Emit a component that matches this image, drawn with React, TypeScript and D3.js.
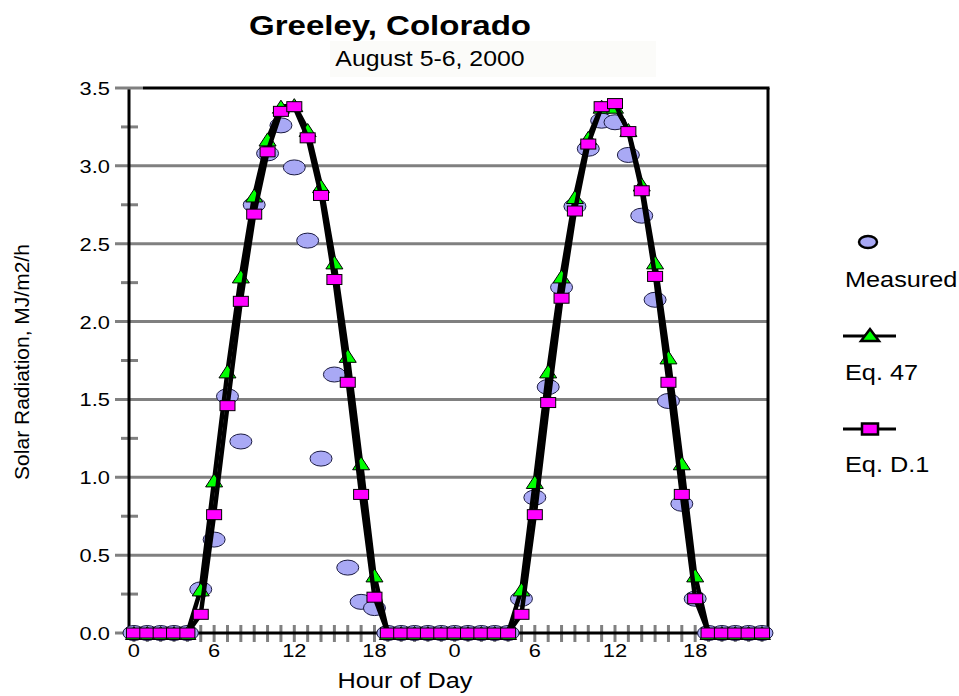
import React from "react";
import * as d3 from "d3";

// hourly values, Aug 5 (0-23) then Aug 6 (24-47)
const hours = d3.range(48);

const measured = [
  0, 0, 0, 0, 0, 0.28, 0.6, 1.52, 1.23, 2.75, 3.08, 3.26, 2.99, 2.52, 1.12, 1.66,
  0.42, 0.2, 0.16, 0, 0, 0, 0, 0,
  0, 0, 0, 0, 0, 0.22, 0.87, 1.58, 2.22, 2.74, 3.11, 3.29, 3.28, 3.07, 2.68, 2.14,
  1.49, 0.83, 0.22, 0, 0, 0, 0, 0,
];

const eq47 = [
  0, 0, 0, 0, 0, 0.28, 0.98, 1.68, 2.29, 2.81, 3.17, 3.38, 3.39, 3.23, 2.87, 2.38,
  1.78, 1.09, 0.37, 0, 0, 0, 0, 0,
  0, 0, 0, 0, 0, 0.28, 0.97, 1.68, 2.29, 2.8, 3.18, 3.38, 3.38, 3.23, 2.88, 2.38,
  1.77, 1.09, 0.37, 0, 0, 0, 0, 0,
];

const eqD1 = [
  0, 0, 0, 0, 0, 0.12, 0.76, 1.46, 2.13, 2.69, 3.09, 3.35, 3.38, 3.18, 2.81, 2.27,
  1.61, 0.89, 0.23, 0, 0, 0, 0, 0,
  0, 0, 0, 0, 0, 0.12, 0.76, 1.48, 2.15, 2.71, 3.14, 3.38, 3.4, 3.22, 2.84, 2.29,
  1.61, 0.89, 0.22, 0, 0, 0, 0, 0,
];

const xTicks = [0, 6, 12, 18, 24, 30, 36, 42];
const xTickLabels = ["0", "6", "12", "18", "0", "6", "12", "18"];
const yMajor = [0, 0.5, 1, 1.5, 2, 2.5, 3, 3.5];
const yMinor = [0.25, 0.75, 1.25, 1.75, 2.25, 2.75, 3.25];

const FONT = "'Liberation Sans', Arial, sans-serif";
const GRID = "#808080";
const BLUE = "#a9a9f5";

const left = 129;
const right = 768;
const top = 88;
const bottom = 633;

const x = d3.scaleLinear().domain([-0.37, 47.45]).range([left, right]);
const y = d3.scaleLinear().domain([0, 3.5]).range([bottom, top]);

// text in the picture is a bit wider than the fonts we have, so stretch it
const SText = ({ x, y, size, sx = 1.15, anchor = "start", weight = "normal", children }: any) => (
  <g transform={`translate(${x},${y}) scale(${sx},1)`}>
    <text textAnchor={anchor} fontSize={size} fontWeight={weight} fontFamily={FONT} fill="#000">
      {children}
    </text>
  </g>
);

const tri = (cx: number, cy: number, w: number, h: number) =>
  `M${cx - w / 2},${cy + h / 2}L${cx},${cy - h / 2}L${cx + w / 2},${cy + h / 2}Z`;

export default function App() {
  const line = d3
    .line<number>()
    .x((_, i) => x(hours[i]))
    .y((d) => y(d));

  return (
    <svg
      width={959}
      height={696}
      style={{ position: "absolute", left: 0, top: 0, background: "#fff" }}
    >
      {/* titles */}
      <SText x={390} y={35} size={28} sx={1.18} anchor="middle" weight="bold">
        Greeley, Colorado
      </SText>
      <rect x={330} y={41} width={326} height={36} fill="#fbfbf9" />
      <SText x={430} y={66} size={22} sx={1.13} anchor="middle">
        August 5-6, 2000
      </SText>

      {/* grid + y ticks */}
      {yMajor.filter((v) => v > 0 && v < 3.5).map((v) => (
        <line key={v} x1={115} x2={right} y1={y(v)} y2={y(v)} stroke={GRID} strokeWidth={3} />
      ))}
      <line x1={115} x2={left} y1={y(0)} y2={y(0)} stroke={GRID} strokeWidth={3} />
      {yMinor.map((v) => (
        <line key={v} x1={121} x2={138} y1={y(v)} y2={y(v)} stroke={GRID} strokeWidth={3} />
      ))}

      {/* x ticks */}
      {hours.map((h) => (
        <line key={h} x1={x(h)} x2={x(h)} y1={625} y2={642} stroke={GRID} strokeWidth={3} />
      ))}

      {/* frame */}
      <line x1={left} x2={left} y1={top} y2={bottom} stroke="#000" strokeWidth={3} />
      <line x1={143} x2={right + 1.5} y1={top} y2={top} stroke="#000" strokeWidth={3} />
      <line x1={right} x2={right} y1={top} y2={bottom} stroke="#000" strokeWidth={3} />
      <line x1={left} x2={right} y1={bottom} y2={bottom} stroke="#000" strokeWidth={3} />
      <line x1={115} x2={143} y1={top} y2={top} stroke={GRID} strokeWidth={3} />

      {/* tick labels */}
      {yMajor.map((v) => (
        <SText key={v} x={110} y={y(v) + 7} size={19} anchor="end">
          {v.toFixed(1)}
        </SText>
      ))}
      {xTicks.map((h, i) => (
        <SText key={h} x={x(h)} y={657} size={19} anchor="middle">
          {xTickLabels[i]}
        </SText>
      ))}

      {/* axis titles */}
      <SText x={405} y={688} size={22} anchor="middle">
        Hour of Day
      </SText>
      <text
        transform="translate(29,362) rotate(-90)"
        textAnchor="middle"
        fontSize={21}
        fontFamily={FONT}
      >
        Solar Radiation, MJ/m2/h
      </text>

      {/* series */}
      {measured.map((v, i) => (
        <ellipse key={i} cx={x(hours[i])} cy={y(v)} rx={11} ry={7.5} fill={BLUE} stroke="#1a1a40" strokeWidth={1} />
      ))}
      <path d={line(eq47) || ""} fill="none" stroke="#000" strokeWidth={4.5} strokeLinejoin="round" />
      {eq47.map((v, i) => (
        <path key={i} d={tri(x(hours[i]), y(v), 17, 13)} fill="#00ff00" stroke="#000" strokeWidth={1} />
      ))}
      <path d={line(eqD1) || ""} fill="none" stroke="#000" strokeWidth={4.5} strokeLinejoin="round" />
      {eqD1.map((v, i) => (
        <rect key={i} x={x(hours[i]) - 7.5} y={y(v) - 5} width={15} height={10} fill="#ff00ff" stroke="#000" strokeWidth={1} />
      ))}

      {/* legend */}
      <ellipse cx={868} cy={242} rx={9} ry={6} fill={BLUE} stroke="#000" strokeWidth={2.5} />
      <SText x={845} y={287} size={22}>Measured</SText>
      <line x1={843} x2={896} y1={336} y2={336} stroke="#000" strokeWidth={3} />
      <path d={tri(870, 335, 18, 12)} fill="#00ff00" stroke="#000" strokeWidth={2.5} />
      <SText x={845} y={380} size={22}>Eq. 47</SText>
      <line x1={843} x2={896} y1={429} y2={429} stroke="#000" strokeWidth={3} />
      <rect x={862} y={423.5} width={16} height={11} fill="#ff00ff" stroke="#000" strokeWidth={2.5} />
      <SText x={845} y={472} size={22}>Eq. D.1</SText>
    </svg>
  );
}
